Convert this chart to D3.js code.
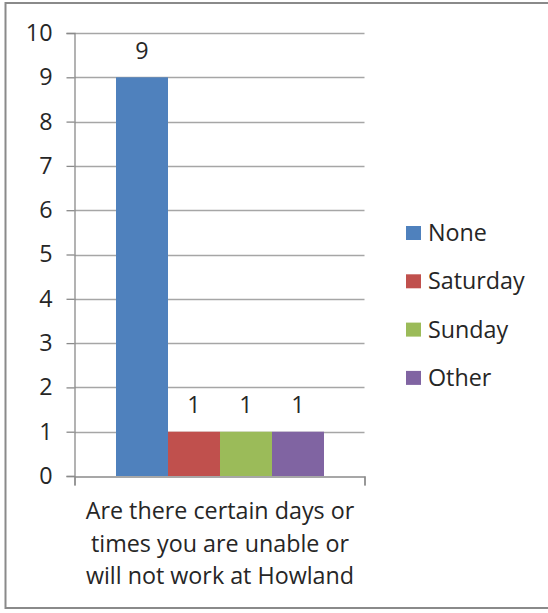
<!DOCTYPE html>
<html><head><meta charset="utf-8">
<script src="https://cdn.jsdelivr.net/npm/d3@7"></script>
<style>body{margin:0;background:#fff}svg{display:block}text{font-family:"Open Sans",sans-serif;fill:#262626}</style>
</head><body>
<script>
const categories = ["None", "Saturday", "Sunday", "Other"];
const values = [9, 1, 1, 1];
const colors = ["#4F81BD", "#C0504D", "#9BBB59", "#8064A2"];
const yTicks = [0,1,2,3,4,5,6,7,8,9,10];
const axisTitle = ["Are there certain days or", "times you are unable or", "will not work at Howland"];

const W = 548, H = 613;
const FONT = '"Open Sans",sans-serif', FS = 23.3;
const svg = d3.select("body").append("svg").attr("width", W).attr("height", H);

// outer border (top, left, bottom)
svg.append("path").attr("d", "M548,3 H5.5 V608 H548").attr("fill","none").attr("stroke","#8a8a8a").attr("stroke-width",2);

const plot = {x0: 74.5, x1: 364.5, y0: 33, y1: 476};
const y = d3.scaleLinear().domain([0,10]).range([plot.y1, plot.y0]);
const x = d3.scaleBand().domain(categories).range([116, 324]).padding(0);

// gridlines
svg.append("g").selectAll("line").data(yTicks.filter(d=>d>0)).join("line")
  .attr("x1", plot.x0).attr("x2", plot.x1)
  .attr("y1", d=>Math.round(y(d))+0.5).attr("y2", d=>Math.round(y(d))+0.5)
  .attr("stroke","#a6a6a6").attr("stroke-width",1.3);

// y axis
const yAxis = svg.append("g").attr("transform", `translate(${plot.x0},0)`)
  .call(d3.axisLeft(y).tickValues(yTicks).tickSize(8).tickPadding(14).tickFormat(d3.format("d")));
yAxis.select(".domain").attr("stroke","#8a8a8a").attr("stroke-width",1.3);
yAxis.selectAll(".tick line").attr("stroke","#8a8a8a").attr("stroke-width",1.3);
yAxis.selectAll(".tick text").attr("font-size",FS).attr("font-family",FONT).attr("fill","#262626");

// bars
svg.append("g").selectAll("rect").data(categories).join("rect")
  .attr("x", d=>x(d)).attr("width", x.bandwidth())
  .attr("y", (d,i)=>y(values[i])).attr("height", (d,i)=>y(0)-y(values[i]))
  .attr("fill", (d,i)=>colors[i]);

// x axis line with end ticks
const xs = d3.scaleLinear().domain([0,1]).range([plot.x0, plot.x1]);
const xAxis = svg.append("g").attr("transform", `translate(0,${Math.round(plot.y1)+0.5})`)
  .call(d3.axisBottom(xs).tickValues([0,1]).tickSize(9).tickFormat(""));
xAxis.select(".domain").attr("stroke","#8a8a8a").attr("stroke-width",1.3);
xAxis.selectAll(".tick line").attr("stroke","#8a8a8a").attr("stroke-width",1.3);

// data labels
svg.append("g").selectAll("text").data(categories).join("text")
  .attr("x", d=>x(d)+x.bandwidth()/2).attr("y", (d,i)=>y(values[i])-18.5)
  .attr("text-anchor","middle").attr("font-size",FS).text((d,i)=>values[i]);

// axis title
svg.append("g").selectAll("text").data(axisTitle).join("text")
  .attr("x", 220).attr("y", (d,i)=>519 + i*32.5)
  .attr("text-anchor","middle").attr("font-size",FS).text(d=>d);

// legend
const lg = svg.append("g").selectAll("g").data(categories).join("g")
  .attr("transform", (d,i)=>`translate(406,${233 + i*48.3})`);
lg.append("rect").attr("x",0).attr("y",-7).attr("width",15).attr("height",14).attr("fill",(d,i)=>colors[i]);
lg.append("text").attr("x",22).attr("y",8).attr("font-size",FS).text(d=>d);
</script>
</body></html>
